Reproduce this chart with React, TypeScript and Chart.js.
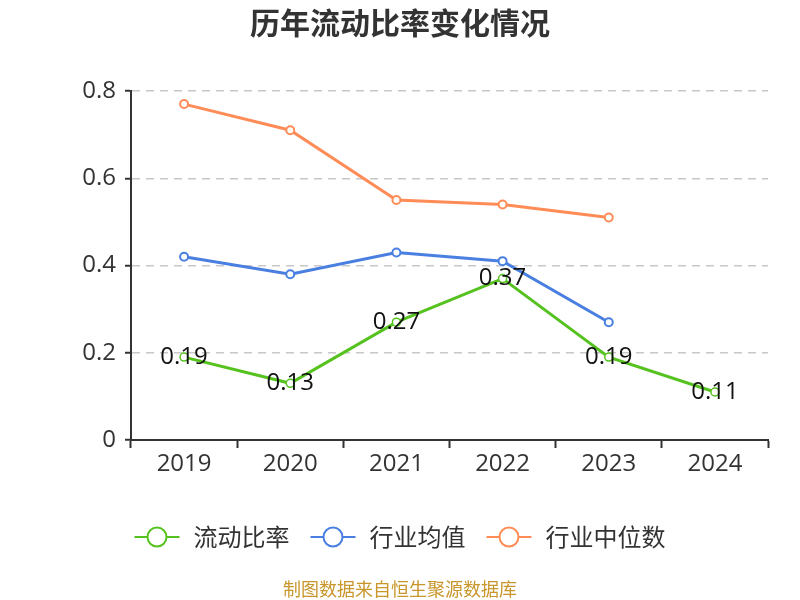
import React, { useEffect, useRef } from "react";
import { Chart, registerables } from "chart.js";

Chart.register(...registerables);

const categories = ["2019", "2020", "2021", "2022", "2023", "2024"];
const currentRatio = [0.19, 0.13, 0.27, 0.37, 0.19, 0.11];
const industryAvg = [0.42, 0.38, 0.43, 0.41, 0.27, null];
const industryMedian = [0.77, 0.71, 0.55, 0.54, 0.51, null];
const seriesNames = ["流动比率", "行业均值", "行业中位数"];
const yTicks = [0, 0.2, 0.4, 0.6, 0.8];

const TITLE = "历年流动比率变化情况";
const SOURCE = "制图数据来自恒生聚源数据库";
const GREEN = "#56c21f";
const BLUE = "#4a7fe2";
const ORANGE = "#ff8c56";
const NUM_FONT = '"Open Sans", "Noto Sans CJK SC", sans-serif';
const CJK_FONT = '"Noto Sans CJK SC", "Noto Sans", sans-serif';

const decorPlugin = {
  id: "decor",
  afterDatasetsDraw(chart: any) {
    const ctx = chart.ctx;
    const meta = chart.getDatasetMeta(0);
    ctx.save();
    ctx.font = `24px ${NUM_FONT}`;
    ctx.fillStyle = "#111";
    ctx.textAlign = "center";
    ctx.textBaseline = "middle";
    meta.data.forEach((pt: any, i: number) => {
      const v = currentRatio[i];
      if (v == null) return;
      ctx.fillText(v.toFixed(2), pt.x, pt.y);
    });
    ctx.restore();
  },
  afterDraw(chart: any) {
    const ctx = chart.ctx;
    const w = chart.width;
    ctx.save();
    // title
    ctx.font = `bold 30px ${CJK_FONT}`;
    ctx.fillStyle = "#333";
    ctx.textAlign = "center";
    ctx.textBaseline = "middle";
    ctx.fillText(TITLE, w / 2, 23);

    // legend
    const colors = [GREEN, BLUE, ORANGE];
    ctx.font = `24px ${CJK_FONT}`;
    const symW = 45;
    const gapText = 14;
    const gapItem = 21;
    const widths = seriesNames.map((n) => symW + gapText + ctx.measureText(n).width);
    const total = widths.reduce((a, b) => a + b, 0) + gapItem * (seriesNames.length - 1);
    let x = w / 2 - total / 2;
    const ly = 537;
    seriesNames.forEach((n, i) => {
      const c = colors[i];
      ctx.strokeStyle = c;
      ctx.lineWidth = 2;
      ctx.beginPath();
      ctx.moveTo(x, ly);
      ctx.lineTo(x + symW, ly);
      ctx.stroke();
      ctx.beginPath();
      ctx.arc(x + symW / 2, ly, 9.5, 0, Math.PI * 2);
      ctx.fillStyle = "#fff";
      ctx.fill();
      ctx.stroke();
      ctx.fillStyle = "#333";
      ctx.textAlign = "left";
      ctx.textBaseline = "middle";
      ctx.fillText(n, x + symW + gapText, ly);
      x += widths[i] + gapItem;
    });

    // source
    ctx.font = `18px ${CJK_FONT}`;
    ctx.fillStyle = "#c8962a";
    ctx.textAlign = "center";
    ctx.textBaseline = "middle";
    ctx.fillText(SOURCE, w / 2, 589);
    ctx.restore();
  },
};

export default function App() {
  const ref = useRef<HTMLCanvasElement | null>(null);

  useEffect(() => {
    if (!ref.current) return;
    const chart = new Chart(ref.current, {
      type: "line",
      data: {
        labels: categories,
        datasets: [
          {
            label: seriesNames[0],
            data: currentRatio,
            borderColor: GREEN,
            backgroundColor: "#fff",
            borderWidth: 3,
            pointRadius: 4,
            pointBorderWidth: 1.5,
            pointBackgroundColor: "#fff",
            pointBorderColor: GREEN,
            tension: 0,
          },
          {
            label: seriesNames[1],
            data: industryAvg,
            borderColor: BLUE,
            backgroundColor: "#fff",
            borderWidth: 3,
            pointRadius: 4,
            pointBorderWidth: 2,
            pointBackgroundColor: "#fff",
            pointBorderColor: BLUE,
            tension: 0,
          },
          {
            label: seriesNames[2],
            data: industryMedian,
            borderColor: ORANGE,
            backgroundColor: "#fff",
            borderWidth: 3,
            pointRadius: 4,
            pointBorderWidth: 2,
            pointBackgroundColor: "#fff",
            pointBorderColor: ORANGE,
            tension: 0,
          },
        ],
      },
      options: {
        animation: false,
        responsive: true,
        maintainAspectRatio: false,
        layout: { padding: { left: 0, right: 32, top: 91, bottom: 120 } },
        plugins: {
          legend: { display: false },
          title: { display: false },
          tooltip: { enabled: false },
        },
        scales: {
          x: {
            offset: true,
            afterFit: (s: any) => {
              s.height = 40;
            },
            grid: {
              offset: true,
              drawOnChartArea: false,
              drawTicks: true,
              tickLength: 8,
              tickColor: "#333",
              tickWidth: 2,
            },
            border: { display: true, color: "#333", width: 2 },
            ticks: {
              color: "#333",
              font: { size: 24, family: NUM_FONT },
              padding: 2,
            },
          },
          y: {
            min: 0,
            max: 0.8,
            afterFit: (s: any) => {
              s.width = 131;
            },
            afterBuildTicks: (s: any) => {
              s.ticks = yTicks.map((v) => ({ value: v }));
            },
            grid: {
              color: (c: any) => (c.tick && c.tick.value === 0 ? "rgba(0,0,0,0)" : "#c8c8c8"),
              lineWidth: 1.5,
              drawTicks: true,
              tickLength: 6,
              tickColor: "#333",
              tickWidth: 2,
            },
            border: { display: true, color: "#333", width: 2, dash: [8, 6] },
            ticks: {
              color: "#333",
              font: { size: 24, family: NUM_FONT },
              padding: 9,
              callback: (v: any) => String(Math.round(Number(v) * 10) / 10),
            },
          },
        },
      },
      plugins: [decorPlugin],
    });
    return () => chart.destroy();
  }, []);

  return (
    <div style={{ position: "absolute", left: 0, top: 0, width: 800, height: 600, background: "#fff" }}>
      <canvas ref={ref} />
    </div>
  );
}
